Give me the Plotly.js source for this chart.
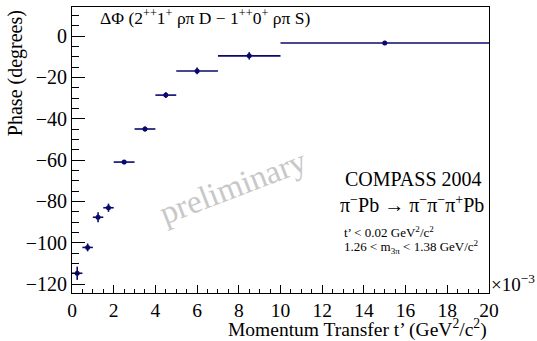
<!DOCTYPE html>
<html>
<head>
<meta charset="utf-8">
<script src="https://cdn.plot.ly/plotly-3.0.1.min.js"></script>
<style>html,body{margin:0;padding:0;background:#fff;}#chart{width:537px;height:341px;}</style>
</head>
<body>
<div id="chart"></div>
<script>
// t' in units of 10^-3 GeV^2/c^2
const tCenter = [0.25, 0.75, 1.25, 1.75, 2.5, 3.5, 4.5, 6.0, 8.5, 15.0];
const tHalfWidth = [0.25, 0.25, 0.25, 0.25, 0.5, 0.5, 0.5, 1.0, 1.5, 5.0];
const phase = [-114.8, -102.3, -87.7, -83.1, -61.0, -45.0, -28.6, -16.9, -9.6, -3.4];
const phaseErr = [3.2, 1.9, 2.4, 2.0, 1.0, 1.2, 1.4, 1.6, 1.8, 1.0];
const xTickVals = [0, 2, 4, 6, 8, 10, 12, 14, 16, 18, 20];
const yTickVals = [-120, -100, -80, -60, -40, -20, 0];

const col = '#0a0a6e';
const serif = 'Liberation Serif';

const trace = {
  x: tCenter, y: phase, type: 'scatter', mode: 'markers',
  marker: {color: col, size: 5, symbol: 'circle'},
  error_x: {type: 'data', array: tHalfWidth, visible: true, color: col, thickness: 1.6, width: 0},
  error_y: {type: 'data', array: phaseErr, visible: true, color: col, thickness: 1.6, width: 0},
  hoverinfo: 'skip'
};

const layout = {
  width: 537, height: 341,
  margin: {l: 72, r: 48, t: 7, b: 48},
  paper_bgcolor: '#fff', plot_bgcolor: '#fff',
  showlegend: false,
  font: {family: serif, color: '#000', size: 18},
  xaxis: {
    range: [0, 20], tickvals: xTickVals, ticks: 'inside', ticklen: 8, tickwidth: 1, tickcolor: '#000',
    minor: {dtick: 0.5, ticks: 'inside', ticklen: 4, tickwidth: 1, tickcolor: '#000'},
    showline: true, linecolor: '#000', linewidth: 1, mirror: true, showgrid: false, zeroline: false,
    tickfont: {family: serif, size: 19.5, color: '#000'}
  },
  yaxis: {
    range: [-124.35, 14.03], tickvals: yTickVals, ticks: 'inside', ticklen: 13, tickwidth: 1, tickcolor: '#000',
    minor: {dtick: 5, ticks: 'inside', ticklen: 7, tickwidth: 1, tickcolor: '#000'},
    showline: true, linecolor: '#000', linewidth: 1, mirror: true, showgrid: false, zeroline: false,
    tickfont: {family: serif, size: 20, color: '#000'}, ticklabelstandoff: 0
  },
  annotations: [
    {text: 'Phase (degrees)', textangle: -90, xref: 'paper', yref: 'paper', x: -0.135, y: 0.995, xanchor: 'center', yanchor: 'top', showarrow: false, font: {family: serif, size: 20}},
    {text: 'Momentum Transfer t’ (GeV<sup>2</sup>/c<sup>2</sup>)', xref: 'paper', yref: 'paper', x: 1.0, y: -0.124, xanchor: 'right', yanchor: 'middle', showarrow: false, font: {family: serif, size: 19.5}},
    {text: '×10<sup>−3</sup>', xref: 'paper', yref: 'paper', x: 1.0, y: 0.035, xanchor: 'left', yanchor: 'middle', showarrow: false, font: {family: serif, size: 19}},
    {text: 'ΔΦ (2<sup>++</sup>1<sup>+</sup> ρπ D − 1<sup>++</sup>0<sup>+</sup> ρπ S)', xref: 'paper', yref: 'paper', x: 0.063, y: 0.965, xanchor: 'left', yanchor: 'middle', showarrow: false, font: {family: serif, size: 17.5}},
    {text: 'COMPASS 2004', xref: 'paper', yref: 'paper', x: 0.65, y: 0.4, xanchor: 'left', yanchor: 'middle', showarrow: false, font: {family: serif, size: 20}},
    {text: 'π<sup>−</sup>Pb → π<sup>−</sup>π<sup>−</sup>π<sup>+</sup>Pb', xref: 'paper', yref: 'paper', x: 0.637, y: 0.31, xanchor: 'left', yanchor: 'middle', showarrow: false, font: {family: serif, size: 20}},
    {text: 't’ < 0.02 GeV<sup>2</sup>/c<sup>2</sup>', xref: 'paper', yref: 'paper', x: 0.647, y: 0.215, xanchor: 'left', yanchor: 'middle', showarrow: false, font: {family: serif, size: 13}},
    {text: '1.26 < m<sub>3π</sub> < 1.38 GeV/c<sup>2</sup>', xref: 'paper', yref: 'paper', x: 0.647, y: 0.16, xanchor: 'left', yanchor: 'middle', showarrow: false, font: {family: serif, size: 13}},
    {text: 'preliminary', textangle: -21, xref: 'paper', yref: 'paper', x: 0.385, y: 0.37, xanchor: 'center', yanchor: 'middle', showarrow: false, font: {family: serif, size: 33, color: '#c8c8c8'}}
  ]
};

Plotly.newPlot('chart', [trace], layout, {staticPlot: true, displayModeBar: false});
</script>
</body>
</html>
